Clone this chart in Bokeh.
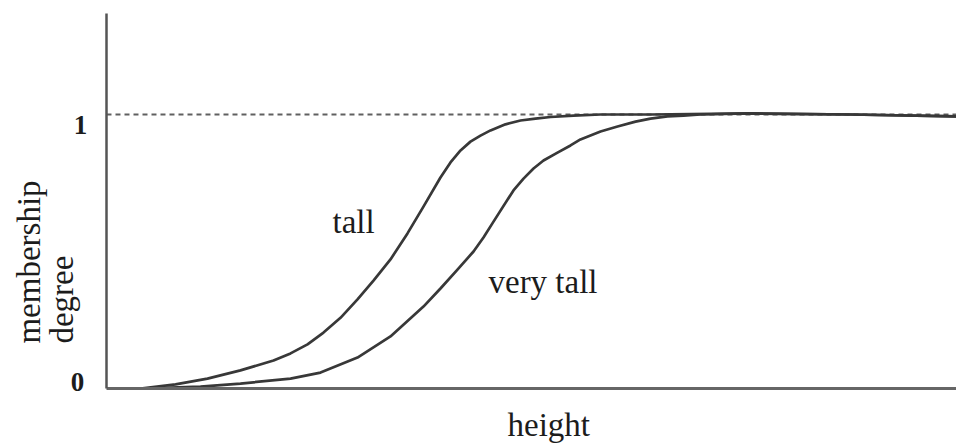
import math
from bokeh.plotting import figure
from bokeh.models import Range1d, Label, FixedTicker
from bokeh.embed import file_html
from bokeh.resources import INLINE

# ---- data ----
tall_x = [4.0, 8.12, 11.88, 15.76, 19.65, 21.65, 23.65, 25.53, 27.53, 29.53, 31.41, 33.41,
          35.41, 37.29, 39.29, 40.47, 41.65, 42.82, 44.0, 45.18, 46.94, 48.71, 50.47, 52.24,
          54.94, 58.12, 64.0, 75.76, 87.53, 100.0]
tall_y = [0.0, 0.015, 0.036, 0.066, 0.102, 0.128, 0.161, 0.204, 0.258, 0.325, 0.394, 0.471,
          0.566, 0.664, 0.770, 0.825, 0.869, 0.901, 0.923, 0.942, 0.964, 0.978, 0.985, 0.991,
          0.996, 1.0, 1.0, 1.004, 1.0, 0.993]

very_x = [4.0, 11.06, 15.76, 21.65, 25.18, 29.53, 33.41, 37.29, 39.29, 41.29, 43.18, 44.35,
          45.53, 47.88, 49.06, 50.24, 51.41, 53.06, 54.59, 55.76, 58.12, 60.12, 62.24, 64.0, 66.0,
          67.88, 69.88, 75.76, 87.53, 100.0]
very_y = [0.0, 0.007, 0.018, 0.036, 0.058, 0.113, 0.190, 0.299, 0.365, 0.434, 0.500, 0.551,
          0.609, 0.723, 0.766, 0.803, 0.832, 0.861, 0.887, 0.909, 0.938, 0.956, 0.974, 0.985, 0.993,
          0.996, 1.0, 1.004, 1.0, 0.993]

ref_x = [0.0, 100.0]
ref_y = [1.0, 1.0]

tick_labels = ["0", "1"]
curve_names = ["tall", "very tall"]
x_title = "height"
y_title = ["membership", "degree"]

SERIF = "Liberation Serif"
TXT = "#1c1c1c"

p = figure(width=956, height=444, output_backend="svg", toolbar_location=None,
           x_range=Range1d(-12.47, 100), y_range=Range1d(-0.2044, 1.4161),
           min_border=0)
p.grid.visible = False
p.outline_line_color = None
p.background_fill_color = "white"
p.border_fill_color = "white"

for ax in (p.xaxis[0], p.yaxis[0]):
    ax.major_tick_line_color = None
    ax.minor_tick_line_color = None
    ax.major_label_text_font_size = "0px"
    ax.major_label_standoff = 0
    ax.axis_label_standoff = 0
    ax.ticker = FixedTicker(ticks=[])
    ax.fixed_location = 0
p.yaxis.bounds = (0, 1.3686)
p.xaxis.bounds = (0, 100)
p.yaxis.axis_line_color = "#555555"
p.yaxis.axis_line_width = 2.5
p.xaxis.axis_line_color = "#666666"
p.xaxis.axis_line_width = 3

p.line(ref_x, ref_y, line_color="#606060", line_width=1.8, line_dash="5 4")
p.line(tall_x, tall_y, line_color="#383838", line_width=2.7, line_join="round", line_cap="round")
p.line(very_x, very_y, line_color="#383838", line_width=2.7, line_join="round", line_cap="round")

def lab(text, x, y, size="33px", bold=False, align="left", angle=0.0):
    p.add_layout(Label(x=x, y=y, text=text, text_font=SERIF, text_font_size=size,
                       text_font_style="bold" if bold else "normal", text_color=TXT,
                       text_align=align, text_baseline="alphabetic", angle=angle))

lab(curve_names[0], 26.59, 0.606)
lab(curve_names[1], 44.94, 0.390)
lab(x_title, 47.18, -0.132)
lab(tick_labels[1], -3.06, 0.960, size="27px", bold=True, align="center")
lab(tick_labels[0], -3.41, 0.022, size="27px", bold=True, align="center")
lab(y_title[0], -9.1, 0.164, angle=math.pi / 2)
lab(y_title[1], -5.2, 0.164, angle=math.pi / 2)

open("out.html", "w").write(file_html(p, INLINE))
